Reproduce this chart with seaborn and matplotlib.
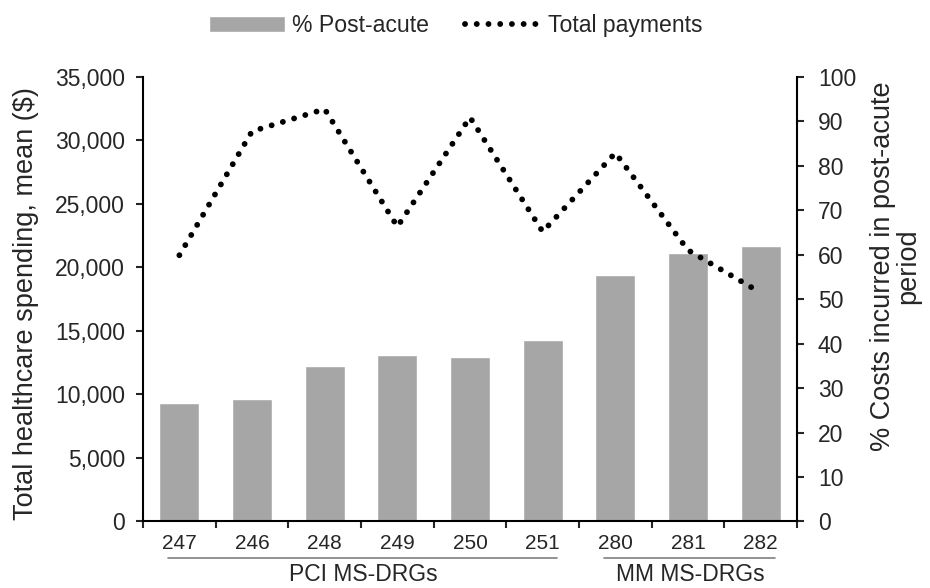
import matplotlib
matplotlib.use("Agg")
import matplotlib.pyplot as plt
import matplotlib.transforms as mtransforms
import numpy as np
import seaborn as sns

# values
drg_codes = ["247", "246", "248", "249", "250", "251", "280", "281", "282"]
pct_post_acute = [26.7, 27.5, 35.0, 37.4, 37.0, 40.7, 55.4, 60.3, 62.0]
total_payments = [20950, 30700, 32450, 23200, 31800, 22800, 29000, 21350, 18000]
groups = [("PCI MS-DRGs", "247", "251"), ("MM MS-DRGs", "280", "282")]
left_ticks = np.arange(0, 35001, 5000)
right_ticks = np.arange(0, 101, 10)

BAR_COLOR = "#a6a6a6"

sns.set_style("ticks")
plt.rcParams["font.family"] = ["Liberation Sans", "DejaVu Sans"]

fig = plt.figure(figsize=(9.3, 5.88), dpi=100)
ax = fig.add_axes([0.1538, 0.1131, 0.857 - 0.1538, 0.8696 - 0.1131])
ax2 = ax.twinx()

# bars: % post-acute on the right axis
sns.barplot(x=drg_codes, y=pct_post_acute, order=drg_codes, color=BAR_COLOR,
            width=0.55, saturation=1, ax=ax2, label="% Post-acute")
# dotted line: total payments on the left axis
pos = np.arange(len(drg_codes))
sns.lineplot(x=pos, y=total_payments, ax=ax, color="black", lw=4.2,
             linestyle=(0, (0.01, 2.0)), dash_capstyle="round",
             label="Total payments")

ax.set_zorder(ax2.get_zorder() + 1)
ax.patch.set_visible(False)

ax.set_xlim(-0.5, len(drg_codes) - 0.5)
ax.set_ylim(0, 35000)
ax2.set_ylim(0, 100)
ax.set_yticks(left_ticks)
ax.set_yticklabels([f"{v:,}" for v in left_ticks])
ax2.set_yticks(right_ticks)
ax.set_xticks(pos)
ax.set_xticklabels(drg_codes)
ax.set_xticks(np.arange(-0.5, len(drg_codes)), minor=True)
ax.tick_params(axis="x", which="major", length=0, pad=9, labelsize=15)
ax.tick_params(axis="x", which="minor", length=5, width=1.5, direction="out")
ax.tick_params(axis="y", length=5, width=1.5, direction="out", pad=8, labelsize=16.5)
ax2.tick_params(axis="y", length=5, width=1.5, direction="out", pad=10, labelsize=16.5)
ax2.tick_params(axis="x", length=0)
ax2.set_xlabel("")

for a in (ax, ax2):
    for s in a.spines.values():
        s.set_linewidth(1.5)
        s.set_color("black")
    a.spines["top"].set_visible(False)
ax.spines["right"].set_visible(False)
ax2.spines["left"].set_visible(False)
ax2.spines["bottom"].set_visible(False)

ax.set_ylabel("Total healthcare spending, mean ($)", fontsize=19.5)
ax.yaxis.label.set_va("center")
ax.yaxis.set_label_coords(-0.179, 0.49)
ax2.set_ylabel("% Costs incurred in post-acute\nperiod", fontsize=19.5,
               linespacing=0.95)
ax2.yaxis.label.set_va("center")
ax2.yaxis.set_label_coords(1.151, 0.574)

# group brackets under the tick labels
trans = mtransforms.blended_transform_factory(ax.transData, ax.transAxes)
for name, first, last in groups:
    i0, i1 = drg_codes.index(first), drg_codes.index(last)
    ax.plot([i0 - 0.15, i1 + 0.2], [-0.082, -0.082], transform=trans,
            color="#7f7f7f", lw=1.2, clip_on=False)
    ax.text((i0 + i1) / 2 + 0.03, -0.12, name, transform=trans,
            ha="center", va="center", fontsize=16.5)

handles = ax2.get_legend_handles_labels()[0] + ax.get_legend_handles_labels()[0]
labels = ["% Post-acute", "Total payments"]
if ax.get_legend():
    ax.get_legend().remove()
if ax2.get_legend():
    ax2.get_legend().remove()
fig.legend(handles, labels, loc="center", bbox_to_anchor=(0.49, 0.957),
           ncol=2, frameon=False, fontsize=16.6, handlelength=3.3,
           handletextpad=0.3, columnspacing=1.6)

fig.savefig("out.png", dpi=100)
